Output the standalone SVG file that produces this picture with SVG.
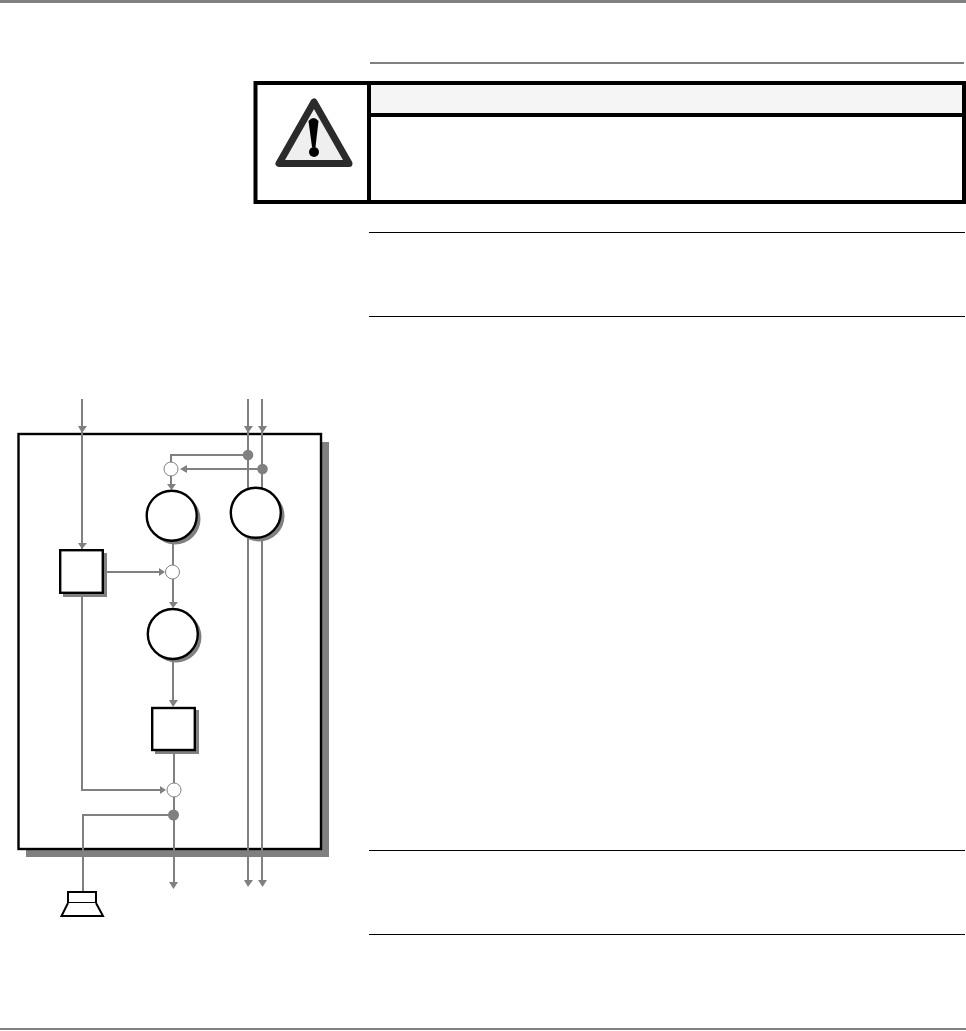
<svg xmlns="http://www.w3.org/2000/svg" width="966" height="1031" viewBox="0 0 966 1031">
<style>
.rule{stroke:#000;stroke-width:1;fill:none}
.w{stroke:#808080;stroke-width:2;fill:none}
.a{fill:#808080}
.sh{fill:#808080}
.n{fill:#fff;stroke:#000;stroke-width:2.4}
.j{fill:#fff;stroke:#808080;stroke-width:1}
.d{fill:#808080}
</style>
<rect width="966" height="1031" fill="#fff"/>
<rect x="0" y="0" width="966" height="3" fill="#808080"/>
<rect x="0" y="1028" width="966" height="2" fill="#808080"/>
<g id="rules">
<line x1="370" y1="63" x2="964" y2="63" stroke="#808080" stroke-width="2"/>
<line x1="369" y1="232.500" x2="965" y2="232.500" class="rule"/>
<line x1="369" y1="316.500" x2="965" y2="316.500" class="rule"/>
<line x1="369" y1="850.500" x2="965" y2="850.500" class="rule"/>
<line x1="369" y1="934.500" x2="965" y2="934.500" class="rule"/>
</g>
<g id="warning-box">
<rect x="370" y="85" width="593" height="29" fill="#f5f5f5"/>
<rect x="255.500" y="83" width="708.500" height="119" fill="none" stroke="#000" stroke-width="4"/>
<line x1="369" y1="83" x2="369" y2="202" stroke="#000" stroke-width="4"/>
<line x1="369" y1="115" x2="964" y2="115" stroke="#000" stroke-width="4"/>
</g>
<g id="warning-icon">
<path d="M314 102 L279 163.500 H349 Z" fill="#efefef" stroke="#2b2b2b" stroke-width="7" stroke-linejoin="round"/>
<path d="M308.500 121 Q313.500 115 318.500 121 L315.500 147 H312 Z" fill="#000"/>
<circle cx="314" cy="152" r="5" fill="#000"/>
</g>
<g id="panel">
<rect x="26" y="442" width="303" height="415" class="sh"/>
<rect x="18.500" y="434" width="302.500" height="415" fill="#fff" stroke="#000" stroke-width="2.400"/>
</g>
<g id="connectors">
<path class="w" d="M82 399V551"/>
<path class="w" d="M248 399V884"/>
<path class="w" d="M262 399V884"/>
<path class="w" d="M248 455H171V487"/>
<path class="w" d="M262 469H182"/>
<path class="w" d="M173 540V604"/>
<path class="w" d="M103 572H163"/>
<path class="w" d="M173 660V705"/>
<path class="w" d="M174 750V884"/>
<path class="w" d="M82 590V790H164"/>
<path class="w" d="M173 815H83V892"/>
<path class="a" d="M78 426H87L82 433Z"/>
<path class="a" d="M244 426H253L248 433Z"/>
<path class="a" d="M258 426H267L262.500 433Z"/>
<path class="a" d="M180 469L187 465V473Z"/>
<path class="a" d="M167 484H176L171.500 490Z"/>
<path class="a" d="M78 543H87L82 549Z"/>
<path class="a" d="M159 568L165 572L159 576Z"/>
<path class="a" d="M169 602H178L173 608Z"/>
<path class="a" d="M169 700H178L173 707Z"/>
<path class="a" d="M160 786L166 790L160 794Z"/>
<path class="a" d="M169 882H178L173.500 889Z"/>
<path class="a" d="M244 880H253L248 887Z"/>
<path class="a" d="M258 880H267L262.500 887Z"/>
</g>
<g id="junctions">
<circle class="d" cx="248" cy="455" r="5.300"/>
<circle class="d" cx="262.500" cy="469" r="5.300"/>
<circle class="d" cx="173.500" cy="815" r="5.500"/>
<circle class="j" cx="171" cy="469" r="7"/>
<circle class="j" cx="172.500" cy="572" r="7"/>
<circle class="j" cx="174" cy="790" r="7"/>
</g>
<g id="circle-1"><circle cx="175" cy="519" r="25.500" fill="#808080"/><circle class="n" cx="171.700" cy="515.700" r="25"/></g>
<g id="circle-2"><circle cx="259" cy="516" r="25.500" fill="#808080"/><circle class="n" cx="255.800" cy="512.800" r="25"/></g>
<g id="circle-3"><circle cx="176" cy="637" r="25.500" fill="#808080"/><circle class="n" cx="172.800" cy="634" r="25"/></g>
<g id="box-1"><rect x="63" y="553" width="44" height="44" class="sh"/><rect x="60.200" y="550.200" width="42.600" height="42.600" class="n"/></g>
<g id="box-2"><rect x="155" y="710" width="44" height="44" class="sh"/><rect x="152.200" y="708" width="42.600" height="42" class="n"/></g>
<g id="speaker">
<rect x="68" y="892" width="28" height="11" fill="#fff" stroke="#000" stroke-width="2"/>
<path d="M68 903L61.500 916H103L96 903" fill="#fff" stroke="#000" stroke-width="2"/>
</g>
</svg>
